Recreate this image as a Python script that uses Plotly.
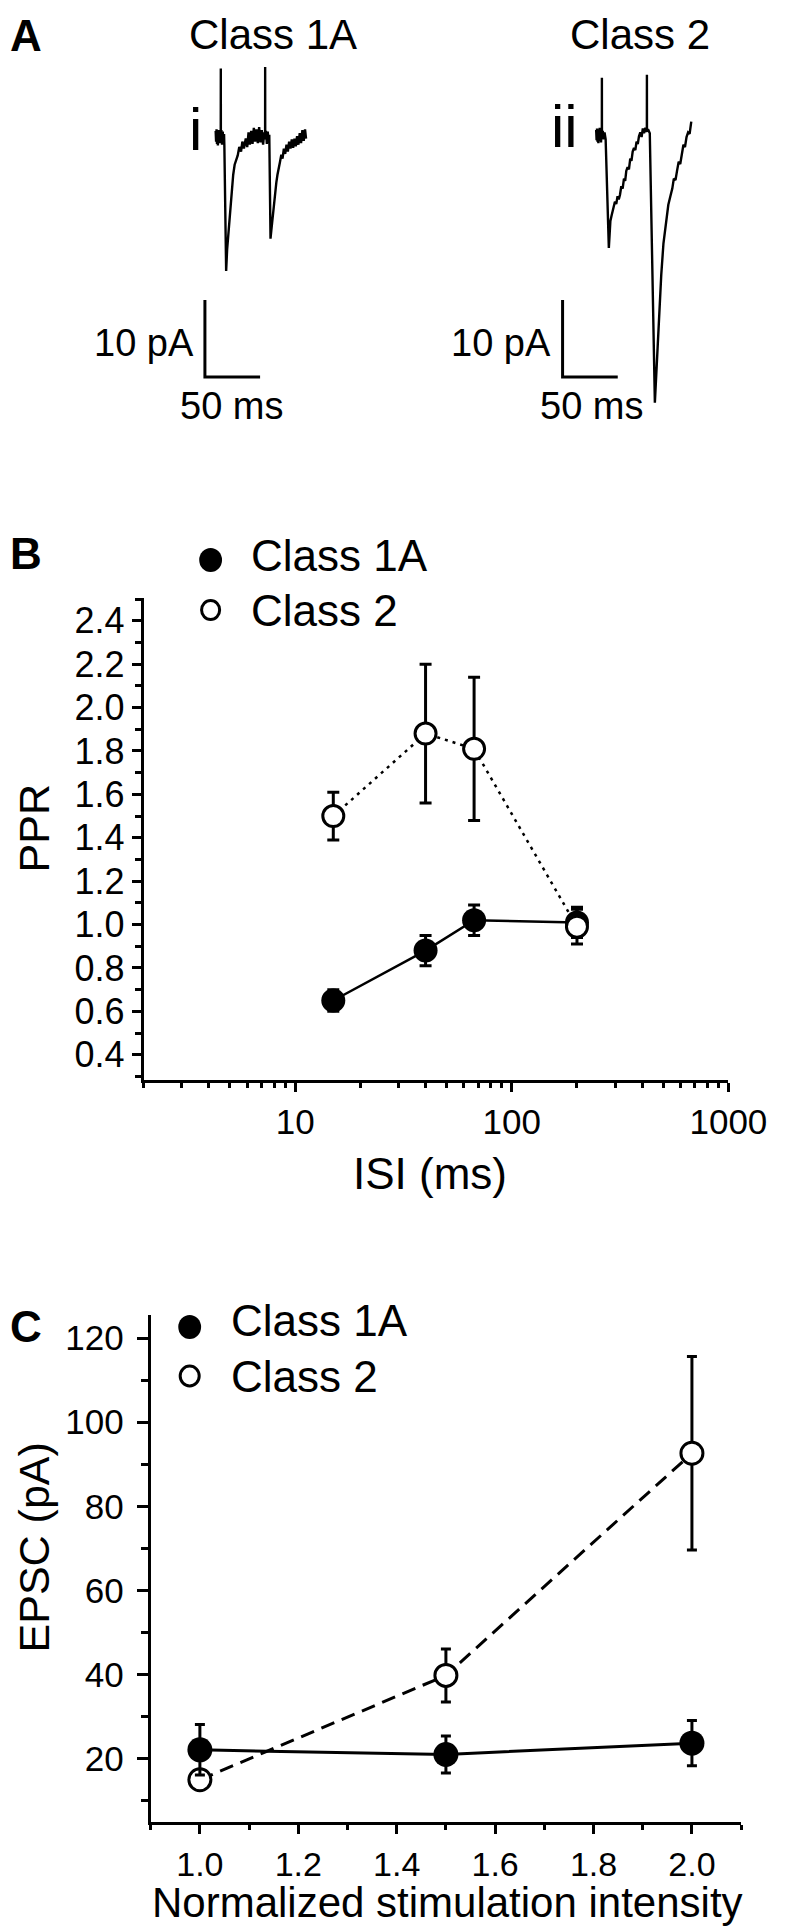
import math
import plotly.graph_objects as go

W, H = 800, 1928
FONT = "Liberation Sans, Arial, Helvetica, sans-serif"

# ---------------- Panel A : example traces (time in ms, current in pA re baseline)
TRACE_CLASS1A = [
    (0.0, 0.8), (0.4, -0.6), (0.8, 1.0), (1.2, -0.9), (1.6, 0.5), (2.0, -1.1), (2.4, 0.9),
    (2.8, -0.4), (3.2, 0.7), (3.6, -0.8), (4.0, 0.6), (4.4, -0.5), (4.6, -0.3), (4.66, 8.9),
    (4.72, -0.4), (5.2, 0.9), (5.8, -1.0), (6.4, 0.7), (7.0, -0.8), (7.6, 0.4), (7.9, -1.2),
    (8.3, -7.4), (9.5, -17.4), (10.4, -14.6), (11.5, -12.7), (12.2, -10.4), (12.9, -9.2),
    (13.8, -7.6), (14.8, -6.0), (15.9, -4.9), (17.2, -3.6), (18.7, -2.9), (20.0, -2.4),
    (21.4, -1.3), (23.0, -1.9), (24.2, -0.6), (25.6, -1.5), (27.3, -0.2), (28.6, -1.3),
    (29.8, 0.6), (31.0, -1.0), (32.2, 0.8), (33.4, -0.9), (34.6, 1.2), (35.8, -0.6),
    (37.0, 1.0), (38.2, -0.8), (39.4, 1.3), (40.6, -0.7), (41.8, 0.9), (43.0, -1.0),
    (44.0, 0.6), (44.8, -0.2), (44.86, 9.1), (44.92, -0.3), (45.6, 0.8), (46.4, -0.9),
    (47.2, 0.7), (48.0, -0.6), (48.6, 0.3), (48.9, -6.2), (49.7, -13.2), (50.4, -12.2),
    (50.9, -11.4), (51.8, -10.3), (52.6, -9.4), (53.2, -8.8), (54.0, -7.4), (55.0, -5.9),
    (56.0, -4.9), (57.0, -3.9), (58.2, -3.3), (59.5, -2.3), (60.6, -2.8), (61.8, -1.5),
    (63.0, -2.2), (64.2, -1.0), (65.4, -1.9), (66.6, -0.6), (67.8, -1.5), (69.0, -0.3),
    (70.2, -1.4), (71.4, -0.2), (72.6, -1.2), (73.8, 0.1), (75.0, -1.0), (76.2, 0.5),
    (77.4, -0.8), (78.6, 0.9), (79.8, -0.5), (81.0, 1.0), (81.9, -0.2),
]
TRACE_CLASS2 = [
    (0.0, 0.7), (0.4, -0.6), (0.8, 0.9), (1.2, -0.8), (1.6, 0.6), (2.0, -1.0), (2.4, 0.8),
    (2.8, -0.5), (3.2, 1.0), (3.6, -0.7), (4.0, 0.6), (4.4, -0.9), (4.8, 0.4), (5.15, -0.2),
    (5.2, 7.5), (5.25, -0.3), (6.0, 0.6), (6.8, -0.5), (7.6, 0.4), (8.4, -0.3), (8.6, -0.5),
    (11.5, -14.6), (12.2, -12.6), (12.9, -11.1), (14.0, -10.4), (15.0, -9.7), (15.9, -9.4),
    (17.0, -8.6), (18.2, -8.9), (19.4, -7.9), (20.5, -8.3), (21.6, -7.7), (22.8, -6.6),
    (24.0, -6.9), (25.2, -5.6), (26.3, -5.9), (27.3, -4.6), (28.5, -4.1), (29.7, -4.4),
    (30.9, -3.0), (32.0, -3.3), (33.1, -2.1), (34.3, -1.6), (35.5, -1.9), (36.6, -0.8),
    (37.7, -1.1), (38.8, -0.1), (40.0, 0.4), (41.2, -0.2), (42.3, 0.9), (43.4, 0.3),
    (44.6, 1.0), (45.5, 0.5), (45.95, 0.6), (46.0, 7.9), (46.05, 0.5), (47.0, 0.8),
    (47.4, 0.6), (48.6, 0.3), (53.2, -34.7), (54.4, -31.0), (56.0, -26.7), (57.5, -22.0),
    (59.0, -18.1), (61.0, -14.0), (63.3, -11.1), (65.4, -9.0), (67.6, -7.7), (69.0, -6.9),
    (70.4, -5.6), (71.9, -5.8), (73.3, -4.6), (74.8, -3.4), (76.2, -3.7), (77.7, -2.2),
    (79.1, -1.2), (80.5, -1.5), (81.9, -0.2), (83.3, 0.4), (84.7, 0.2), (86.2, 1.8),
]
SCALE_PA = 10      # vertical scale bar (pA)
SCALE_MS = 50      # horizontal scale bar (ms)
SCALE_ORIGIN_1A = (-9.74, -21.17)   # top of vertical bar (ms, pA)
SCALE_ORIGIN_2 = (-30.43, -21.36)

# ---------------- Panel B : paired-pulse ratio
ISI_MS = [15, 40, 67, 200]
PPR_1A = [0.65, 0.88, 1.02, 1.01]
PPR_1A_ERR = [0.05, 0.07, 0.07, 0.07]
PPR_2 = [1.50, 1.88, 1.81, 0.99]
PPR_2_ERR = [0.11, 0.32, 0.33, 0.08]

# ---------------- Panel C : EPSC vs stimulation intensity
STIM = [1.0, 1.5, 2.0]
EPSC_1A = [22.1, 21.0, 23.7]
EPSC_1A_ERR = [6.0, 4.4, 5.4]
EPSC_2 = [15.0, 39.8, 92.6]
EPSC_2_ERR = [1.0, 6.3, 23.0]

SERIES = ["Class 1A", "Class 2"]


def px(x):
    return x / W


def py(y):
    return 1 - y / H


fig = go.Figure()

# ---- Panel A traces
for trace, ax, origin in [(TRACE_CLASS1A, "3", SCALE_ORIGIN_1A), (TRACE_CLASS2, "4", SCALE_ORIGIN_2)]:
    t = [p[0] for p in trace]
    i = [p[1] for p in trace]
    fig.add_trace(go.Scatter(x=t, y=i, mode="lines", line=dict(color="black", width=2.4),
                             xaxis="x" + ax, yaxis="y" + ax, showlegend=False, hoverinfo="skip"))
    ox, oy = origin
    fig.add_trace(go.Scatter(x=[ox, ox, ox + SCALE_MS], y=[oy, oy - SCALE_PA, oy - SCALE_PA],
                             mode="lines", line=dict(color="black", width=3),
                             xaxis="x" + ax, yaxis="y" + ax, showlegend=False, hoverinfo="skip"))

# ---- Panel B
fig.add_trace(go.Scatter(
    x=ISI_MS, y=PPR_1A, mode="lines+markers", name=SERIES[0],
    line=dict(color="black", width=2.5),
    marker=dict(symbol="circle", size=24, color="black", line=dict(width=0)),
    error_y=dict(type="data", array=PPR_1A_ERR, color="black", thickness=3, width=6),
    xaxis="x", yaxis="y", showlegend=False))
fig.add_trace(go.Scatter(
    x=ISI_MS, y=PPR_2, mode="lines+markers", name=SERIES[1],
    line=dict(color="black", width=2.5, dash="3px,5px"),
    marker=dict(symbol="circle", size=21, color="white", line=dict(width=3, color="black")),
    error_y=dict(type="data", array=PPR_2_ERR, color="black", thickness=3, width=6),
    xaxis="x", yaxis="y", showlegend=False))

# ---- Panel C
fig.add_trace(go.Scatter(
    x=STIM, y=EPSC_2, mode="lines+markers", name=SERIES[1],
    line=dict(color="black", width=3, dash="14px,8px"),
    marker=dict(symbol="circle", size=22, color="white", line=dict(width=3, color="black")),
    error_y=dict(type="data", array=EPSC_2_ERR, color="black", thickness=3, width=5),
    xaxis="x2", yaxis="y2", showlegend=False))
fig.add_trace(go.Scatter(
    x=STIM, y=EPSC_1A, mode="lines+markers", name=SERIES[0],
    line=dict(color="black", width=3),
    marker=dict(symbol="circle", size=25, color="black", line=dict(width=0)),
    error_y=dict(type="data", array=EPSC_1A_ERR, color="black", thickness=3, width=5),
    xaxis="x2", yaxis="y2", showlegend=False))

axis_common = dict(showline=True, linecolor="black", linewidth=3, ticks="outside",
                   tickwidth=3, tickcolor="black", showgrid=False, zeroline=False,
                   fixedrange=True)
hidden = dict(visible=False, showgrid=False, zeroline=False, fixedrange=True)


def tfont(size):
    return dict(family=FONT, size=size, color="black")


fig.update_layout(
    width=W, height=H, margin=dict(l=0, r=0, t=0, b=0),
    paper_bgcolor="white", plot_bgcolor="rgba(0,0,0,0)",
    showlegend=False,
    xaxis=dict(**axis_common, type="log", domain=[px(142.7), px(757.3)],
               range=[math.log10(2), 3], tickvals=[10, 100, 1000], ticktext=["10", "100", "1000"],
               ticklen=9, anchor="y", tickfont=tfont(35),
               minor=dict(ticks="outside", ticklen=5, tickwidth=2.5, tickcolor="black",
                          dtick="D1", showgrid=False)),
    yaxis=dict(**axis_common, domain=[py(1071.7), py(590)], range=[0.285, 2.505],
               dtick=0.2, tick0=0, tickformat=".1f", ticklen=9, anchor="x", tickfont=tfont(36),
               minor=dict(ticks="outside", ticklen=6, tickwidth=2.5, tickcolor="black",
                          dtick=0.1, showgrid=False)),
    xaxis2=dict(**axis_common, domain=[px(150), px(770.7)], range=[0.9, 2.1],
                dtick=0.2, tick0=0, tickformat=".1f", ticklen=9, anchor="y2",
                ticklabelstandoff=1, tickfont=tfont(34),
                minor=dict(ticks="outside", ticklen=5, tickwidth=2.5, tickcolor="black",
                           dtick=0.1, showgrid=False)),
    yaxis2=dict(**axis_common, domain=[py(1813.8), py(1307.3)], range=[5, 125.4],
                dtick=20, tick0=0, ticklen=11, anchor="x2", ticklabelstandoff=6,
                tickfont=tfont(35),
                minor=dict(ticks="outside", ticklen=7, tickwidth=2.5, tickcolor="black",
                           dtick=10, showgrid=False)),
    xaxis3=dict(**hidden, domain=[px(190), px(330)], range=[-24.40, 96.29], anchor="y3"),
    yaxis3=dict(**hidden, domain=[py(420), py(50)], range=[-37.79, 10.26], anchor="x3"),
    xaxis4=dict(**hidden, domain=[px(570), px(740)], range=[-41.64, 104.92], anchor="y4"),
    yaxis4=dict(**hidden, domain=[py(420), py(50)], range=[-37.99, 10.06], anchor="x4"),
)

annotations = []


def txt(text, x, y, size, bold=False, angle=0, xanchor="center", yanchor="middle"):
    annotations.append(dict(
        text=f"<b>{text}</b>" if bold else text, x=px(x), y=py(y), xref="paper", yref="paper",
        showarrow=False, xanchor=xanchor, yanchor=yanchor, textangle=angle,
        font=dict(family=FONT, size=size, color="black")))


# Panel letters
txt("A", 0, 1, 44, bold=True, xanchor="left", yanchor="top")
txt("B", 0, 545, 44, bold=True, xanchor="left")
txt("C", 0, 1318, 44, bold=True, xanchor="left")
# Panel A labels
txt("Class 1A", 278.5, 0.5, 42, yanchor="top")
txt("Class 2", 664.5, 0.5, 42, yanchor="top")
txt("i", 197, 121, 60)
txt("ii", 584.5, 118, 60)
txt(f"{SCALE_PA} pA", 142.5, 335, 38)
txt(f"{SCALE_MS} ms", 235, 398, 38)
txt(f"{SCALE_PA} pA", 518.5, 335, 38)
txt(f"{SCALE_MS} ms", 613, 398, 38)
# Panel B legend + titles
txt(SERIES[0], 253, 547, 44, xanchor="left")
txt(SERIES[1], 253, 602, 44, xanchor="left")
txt("PPR", 0.5, 820, 43, angle=-90, xanchor="left")
txt("ISI (ms)", 444, 1165, 44)
# Panel C legend + titles
txt(SERIES[0], 232, 1312, 44, xanchor="left")
txt(SERIES[1], 232, 1368, 44, xanchor="left")
txt("EPSC (pA)", 0.5, 1539, 43, angle=-90, xanchor="left")
txt("Normalized stimulation intensity", 462, 1920, 42, yanchor="bottom")

fig.update_layout(annotations=annotations)


def circle(cx, cy, d, filled):
    r = d / 2
    return dict(type="circle", xref="paper", yref="paper",
                x0=px(cx - r), x1=px(cx + r), y0=py(cy + r), y1=py(cy - r),
                fillcolor="black" if filled else "white",
                line=dict(color="black", width=0 if filled else 3))


fig.update_layout(shapes=[
    circle(213, 552, 24, True), circle(213, 602, 19, False),
    circle(191, 1319, 24, True), circle(191, 1368, 20, False),
])

fig.write_html("out.html")
